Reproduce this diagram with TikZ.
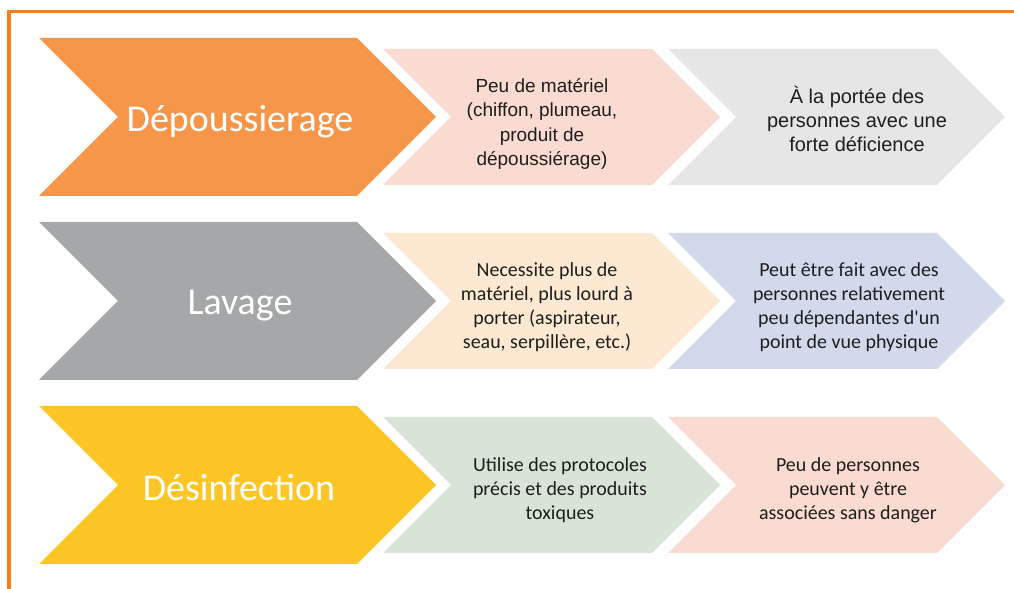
\documentclass[tikz,border=0pt]{standalone}
\usepackage{fontspec}
\setmainfont{Carlito}
\newfontfamily\arialfont{Liberation Sans}
\usepackage{tikz}
\usetikzlibrary{positioning, calc}
\definecolor{cadre}{RGB}{244,128,32}
\definecolor{orangeb}{RGB}{247,150,72}
\definecolor{grisb}{RGB}{165,167,168}
\definecolor{jauneb}{RGB}{253,198,38}
\definecolor{rosec}{RGB}{250,219,209}
\definecolor{grisc}{RGB}{230,230,230}
\definecolor{pechec}{RGB}{253,233,210}
\definecolor{bleuc}{RGB}{210,217,234}
\definecolor{vertc}{RGB}{216,228,214}
\definecolor{texte}{RGB}{30,30,30}
% chevron: colour, left x, top y, length of top edge, half height
\newcommand{\chevron}[5]{\fill[#1] (#2,#3) -- ++(#4,0) -- ++(#5,#5) -- ++(-#5,#5) -- ++(-#4,0) -- ++(#5,-#5) -- cycle;}
\tikzset{bigtext/.style={text=white, inner sep=0pt, font=\fontsize{27}{32}\selectfont},
  smalltext/.style={align=center, text=texte, inner sep=0pt, font=\fontsize{14.2}{17.1}\selectfont},
  arialtext/.style={smalltext, font=\arialfont\fontsize{13.5}{17.1}\selectfont}}

\begin{document}
\begin{tikzpicture}[x=0.025cm, y=-0.025cm]
  \useasboundingbox (0,0) rectangle (1014,589);

  % frame
  \draw[cadre, line width=3*0.7113pt] (1014,12) -- (9,12) -- (9,589);

  % row 1
  \chevron{orangeb}{39}{38}{318}{79}
  \chevron{rosec}{383}{49}{269}{68}
  \chevron{grisc}{668}{49}{269}{68}
  \node[bigtext] (depous) at (240,122) {Dépoussierage};
  \node[arialtext] (depous-a) at (542,124) {Peu de matériel\\(chiffon, plumeau,\\produit de\\dépoussiérage)};
  \node[arialtext, font=\arialfont\fontsize{14.2}{17.1}\selectfont] (depous-b) at (857,119) {À la portée des\\personnes avec une\\forte déficience};

  % row 2
  \chevron{grisb}{39}{222}{318}{79}
  \chevron{pechec}{383}{233}{269}{68}
  \chevron{bleuc}{668}{233}{269}{68}
  \node[bigtext] (lavage) at (240,306) {Lavage};
  \node[smalltext] (lavage-a) at (547,307) {Necessite plus de\\matériel, plus lourd à\\porter (aspirateur,\\seau, serpillère, etc.)};
  \node[smalltext] (lavage-b) at (849,307) {Peut être fait avec des\\personnes relativement\\peu dépendantes d\textquotesingle un\\point de vue physique};

  % row 3
  \chevron{jauneb}{39}{406}{318}{79}
  \chevron{vertc}{383}{417}{269}{68}
  \chevron{rosec}{668}{417}{269}{68}
  \node[bigtext] (desinf) at (239,488) {Désinfection};
  \node[smalltext] (desinf-a) at (560,490) {Utilise des protocoles\\précis et des produits\\toxiques};
  \node[smalltext] (desinf-b) at (848,490) {Peu de personnes\\peuvent y être\\associées sans danger};
\end{tikzpicture}
\end{document}
